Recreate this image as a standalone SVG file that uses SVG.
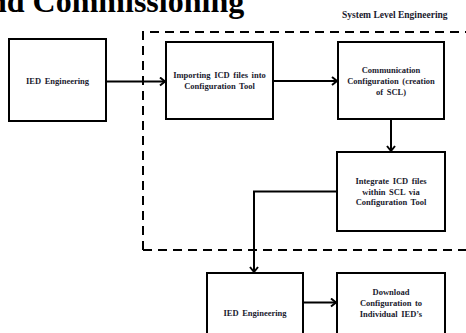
<svg xmlns="http://www.w3.org/2000/svg" width="466" height="333" viewBox="0 0 466 333">
<style>
.box{fill:#fff;stroke:#000;stroke-width:2}
.t{font-family:"Liberation Serif",serif;font-weight:bold;font-size:8.5px;fill:#1a1a2e;text-anchor:middle;word-spacing:1.5px}
.c{fill:none;stroke:#000;stroke-width:2}
</style>
<defs>
<marker id="ah" markerWidth="10" markerHeight="10" refX="7" refY="5" orient="auto" markerUnits="userSpaceOnUse">
<path d="M2,1 L7,5 L2,9" fill="none" stroke="#000" stroke-width="2"/>
</marker>
</defs>
<rect width="466" height="333" fill="#fff"/>
<text x="-11" y="12" font-family="Liberation Serif,serif" font-weight="bold" font-size="32">nd Commissioning</text>
<text x="342" y="18" font-family="Liberation Serif,serif" font-weight="bold" font-size="9.5" fill="#1a1a2e">System Level Engineering</text>
<path d="M143,250 V32 H466 M143,250 H466" fill="none" stroke="#000" stroke-width="2" stroke-dasharray="9,6"/>
<g id="n1"><rect class="box" x="9" y="39" width="97" height="82"/><text class="t" x="57.5" y="84">IED Engineering</text></g>
<g id="n2"><rect class="box" x="166" y="42" width="107" height="77"/><text class="t" x="219.5" y="78">Importing ICD files into</text><text class="t" x="219.5" y="89">Configuration Tool</text></g>
<g id="n3"><rect class="box" x="338" y="42" width="106" height="77"/><text class="t" x="391" y="73">Communication</text><text class="t" x="391" y="84">Configuration (creation</text><text class="t" x="391" y="95">of SCL)</text></g>
<g id="n4"><rect class="box" x="337" y="152" width="108" height="79"/><text class="t" x="391" y="184">Integrate ICD files</text><text class="t" x="391" y="195">within SCL via</text><text class="t" x="391" y="205">Configuration Tool</text></g>
<g id="n5"><rect class="box" x="207" y="273" width="96" height="70"/><text class="t" x="255" y="316">IED Engineering</text></g>
<g id="n6"><rect class="box" x="337" y="273" width="108" height="70"/><text class="t" x="391" y="295">Download</text><text class="t" x="391" y="306">Configuration to</text><text class="t" x="391" y="317">Individual IED’s</text></g>
<g id="connectors">
<path class="c" d="M106,81.5 H165" marker-end="url(#ah)"/>
<path class="c" d="M273,81 H337" marker-end="url(#ah)"/>
<path class="c" d="M391,119 V151" marker-end="url(#ah)"/>
<path class="c" d="M337,191.5 H254 V272" marker-end="url(#ah)"/>
<path class="c" d="M303,302.5 H336" marker-end="url(#ah)"/>
</g>
</svg>
